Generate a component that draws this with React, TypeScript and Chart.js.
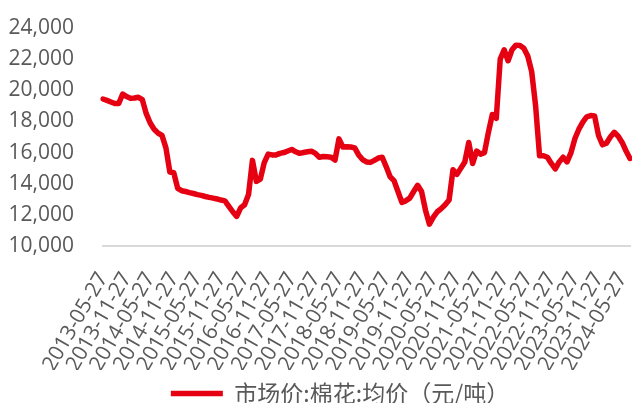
import React, { useEffect, useRef } from 'react';
import { Chart, registerables } from 'chart.js';

Chart.register(...registerables);

// Monthly series, 2013-05 .. 2024-07 (元/吨)
const v2013 = [19440, 19350, 19250, 19150, 19150, 19760, 19600, 19480];
const v2014 = [19500, 19550, 19400, 18500, 17900, 17500, 17250, 17100, 16300, 14750, 14700, 13700];
const v2015 = [13550, 13500, 13430, 13370, 13300, 13250, 13180, 13120, 13075, 13020, 12950, 12900];
const v2016 = [12550, 12200, 11900, 12450, 12650, 13300, 15500, 14150, 14300, 15350, 15900, 15850];
const v2017 = [15850, 15950, 16000, 16100, 16200, 16050, 15950, 16000, 16050, 16090, 15950, 15700];
const v2018 = [15750, 15730, 15700, 15520, 16880, 16360, 16380, 16360, 16300, 15850, 15550, 15400];
const v2019 = [15370, 15500, 15650, 15700, 15100, 14450, 14200, 13500, 12800, 12900, 13075, 13500];
const v2020 = [13900, 13500, 12300, 11400, 11850, 12200, 12400, 12650, 12950, 14900, 14600, 15000];
const v2021 = [15400, 16650, 15300, 16100, 15900, 16000, 17300, 18450, 18200, 22000, 22600, 21900];
const v2022 = [22600, 22900, 22880, 22700, 22200, 21200, 19000, 15800, 15800, 15700, 15300, 14950];
const v2023 = [15400, 15700, 15400, 16000, 16900, 17500, 17950, 18300, 18380, 18350, 17100, 16500];
const v2024 = [16600, 17000, 17300, 17050, 16650, 16100, 15620];

const seriesValues = [
  ...v2013, ...v2014, ...v2015, ...v2016, ...v2017, ...v2018,
  ...v2019, ...v2020, ...v2021, ...v2022, ...v2023, ...v2024,
];

const tickLabels = [
  '2013-05-27', '2013-11-27', '2014-05-27', '2014-11-27', '2015-05-27', '2015-11-27',
  '2016-05-27', '2016-11-27', '2017-05-27', '2017-11-27', '2018-05-27', '2018-11-27',
  '2019-05-27', '2019-11-27', '2020-05-27', '2020-11-27', '2021-05-27', '2021-11-27',
  '2022-05-27', '2022-11-27', '2023-05-27', '2023-11-27', '2024-05-27',
];

const seriesName = '市场价:棉花:均价（元/吨）';

// monthly categories starting at 2013-05-27
const categories: string[] = seriesValues.map((_, i) => {
  const total = 2013 * 12 + 4 + i;
  const y = Math.floor(total / 12);
  const m = (total % 12) + 1;
  return `${y}-${m < 10 ? '0' + m : m}-27`;
});

const legendShift = {
  id: 'legendShift',
  afterLayout(chart: any) {
    const lg = chart.legend;
    if (lg) {
      lg.left += 25;
      lg.right += 25;
      lg.top += 12;
      lg.bottom += 12;
    }
  },
};

export default function App() {
  const ref = useRef<HTMLCanvasElement | null>(null);

  useEffect(() => {
    if (!ref.current) return;
    const textColor = '#595959';
    const axisFont = { family: '"Open Sans", sans-serif', size: 21 };
    const chart = new Chart(ref.current, {
      type: 'line',
      data: {
        labels: categories,
        datasets: [
          {
            label: seriesName,
            data: seriesValues,
            borderColor: '#E50012',
            backgroundColor: '#E50012',
            borderWidth: 5.5,
            pointRadius: 0,
            tension: 0,
            borderCapStyle: 'round',
            borderJoinStyle: 'round',
          },
        ],
      },
      options: {
        animation: false,
        responsive: true,
        maintainAspectRatio: false,
        layout: { padding: { top: 28, right: 2, left: 0, bottom: 0 } },
        plugins: {
          legend: {
            position: 'bottom',
            labels: {
              usePointStyle: true,
              pointStyle: 'line',
              pointStyleWidth: 52,
              padding: 0,
              color: textColor,
              font: { family: '"Noto Sans CJK SC", sans-serif', size: 23 },
            },
          },
          tooltip: { enabled: false },
        },
        scales: {
          x: {
            type: 'category',
            offset: false,
            grid: { display: false, drawTicks: false },
            border: { display: true, color: '#D9D9D9', width: 2 },
            ticks: {
              autoSkip: false,
              maxRotation: 60,
              minRotation: 60,
              padding: 22,
              color: textColor,
              font: axisFont,
              callback: (_v: any, i: number) => (i % 6 === 0 ? tickLabels[i / 6] ?? '' : ''),
            },
            afterFit: (scale: any) => {
              scale.height = 124;
              scale.paddingLeft = 0;
              scale.paddingRight = 0;
            },
          },
          y: {
            min: 10000,
            max: 24000,
            grid: { display: false, drawTicks: false },
            border: { display: false },
            ticks: {
              autoSkip: false,
              stepSize: 2000,
              padding: 29,
              color: textColor,
              font: axisFont,
              callback: (v: any) => Number(v).toLocaleString('en-US'),
            },
            afterFit: (scale: any) => {
              scale.width = 103;
              scale.paddingTop = 0;
              scale.paddingBottom = 0;
            },
          },
        },
      },
      plugins: [legendShift],
    });
    return () => chart.destroy();
  }, []);

  return (
    <div style={{ position: 'fixed', left: 0, top: 0, width: 632, height: 403, background: '#fff' }}>
      <canvas ref={ref} />
    </div>
  );
}
